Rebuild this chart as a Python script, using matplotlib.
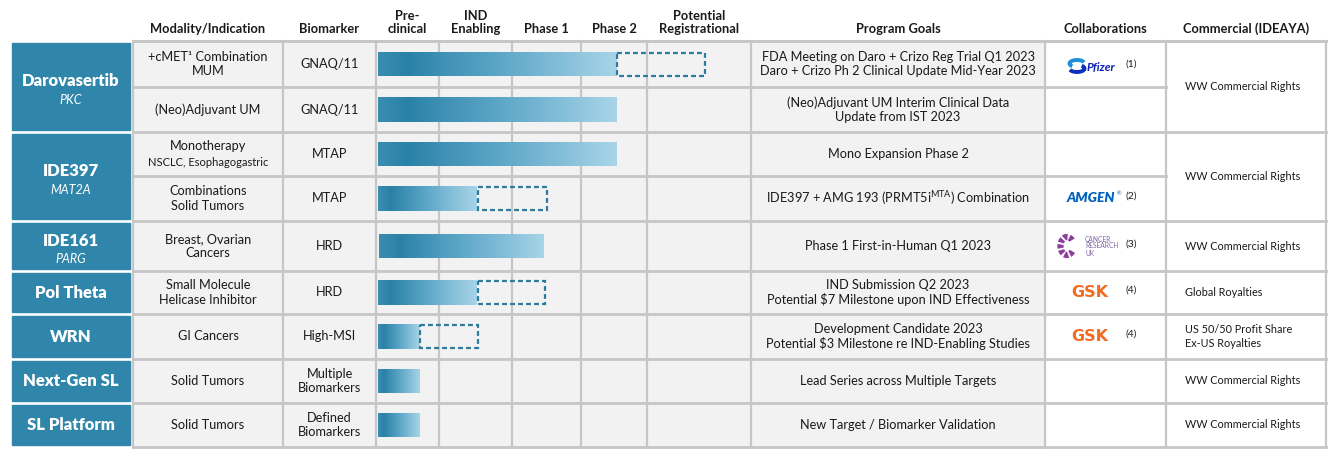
import numpy as np
import matplotlib.pyplot as plt
from matplotlib.patches import Rectangle, Arc
from matplotlib.colors import LinearSegmentedColormap

plt.rcParams['font.family'] = ['Lato', 'DejaVu Sans']

# ---------------- data ----------------
headers = ["Modality/Indication", "Biomarker", "Pre-\nclinical", "IND\nEnabling", "Phase 1",
           "Phase 2", "Potential\nRegistrational", "Program Goals", "Collaborations",
           "Commercial (IDEAYA)"]

programs = ["Darovasertib", "IDE397", "IDE161", "Pol Theta", "WRN", "Next-Gen SL", "SL Platform"]
targets = ["PKC", "MAT2A", "PARG", "", "", "", ""]
program_rows = [[0, 1], [2, 3], [4], [5], [6], [7], [8]]
commercial = ["WW Commercial Rights", "WW Commercial Rights", "WW Commercial Rights",
              "Global Royalties", "US 50/50 Profit Share\nEx-US Royalties",
              "WW Commercial Rights", "WW Commercial Rights"]

indications = ["+cMET\u00b9 Combination\nMUM", "(Neo)Adjuvant UM", "Monotherapy",
               "Combinations\nSolid Tumors", "Breast, Ovarian\nCancers",
               "Small Molecule\nHelicase Inhibitor", "GI Cancers", "Solid Tumors", "Solid Tumors"]
indication_sub = ["", "", "NSCLC, Esophagogastric", "", "", "", "", "", ""]
biomarkers = ["GNAQ/11", "GNAQ/11", "MTAP", "MTAP", "HRD", "HRD", "High-MSI",
              "Multiple\nBiomarkers", "Defined\nBiomarkers"]

# stage progress: 0 = start of Pre-clinical, 1 = end of Pre-clinical, ... 5 = end of Registrational
stage_start = [0.03, 0.03, 0.03, 0.03, 0.05, 0.03, 0.03, 0.03, 0.03]
stage_done = [3.55, 3.55, 3.55, 1.53, 2.48, 1.53, 0.70, 0.70, 0.70]
stage_next = [4.56, np.nan, np.nan, 2.50, np.nan, 2.48, 1.53, np.nan, np.nan]

goals = ["FDA Meeting on Daro + Crizo Reg Trial Q1 2023\nDaro + Crizo Ph 2 Clinical Update Mid-Year 2023",
         "(Neo)Adjuvant UM Interim Clinical Data\nUpdate from IST 2023",
         "Mono Expansion Phase 2",
         r"IDE397 + AMG 193 (PRMT5i$^{\mathregular{MTA}}$) Combination",
         "Phase 1 First-in-Human Q1 2023",
         "IND Submission Q2 2023\nPotential \\$7 Milestone upon IND Effectiveness",
         "Development Candidate 2023\nPotential \\$3 Milestone re IND-Enabling Studies",
         "Lead Series across Multiple Targets",
         "New Target / Biomarker Validation"]
partners = ["Pfizer", "", "", "AMGEN", "CRUK", "GSK", "GSK", "", ""]
partner_notes = ["(1)", "", "", "(2)", "(3)", "(4)", "(4)", "", ""]

# ---------------- layout (pixels) ----------------
W, H = 1339, 457
row_edges = np.array([41, 87, 132, 176, 221, 271, 314, 359, 403, 447])
col_edges = [133, 283, 376, 439, 512, 581, 647, 751, 1045, 1166, 1326]
stage_px = col_edges[2:8]
row_mid = (row_edges[:-1] + row_edges[1:]) / 2
bar_h = 25
fs = 9.2

blue = '#2f86aa'
grid_c = '#c6c6c6'
txt_c = '#1a1a1a'

fig = plt.figure(figsize=(W / 100, H / 100), dpi=100)
ax = fig.add_axes([0, 0, 1, 1])
ax.set_xlim(0, W)
ax.set_ylim(H, 0)
ax.axis('off')

# cell backgrounds
ax.add_patch(Rectangle((col_edges[0], row_edges[0]), col_edges[8] - col_edges[0],
                       row_edges[-1] - row_edges[0], color='#f2f2f2', zorder=0))

# grid
for c in col_edges:
    ax.plot([c, c], [row_edges[0], row_edges[-1]], color=grid_c, lw=1.6, zorder=1)
for y in [row_edges[0], row_edges[-1]]:
    ax.plot([col_edges[0], col_edges[-1]], [y, y], color=grid_c, lw=2, zorder=1)
for p, rows in enumerate(program_rows):
    top = row_edges[rows[0]]
    ax.plot([col_edges[0], col_edges[-1]], [top, top], color=grid_c, lw=2, zorder=1)
    for r in rows[1:]:
        ax.plot([col_edges[0], col_edges[9]], [row_edges[r], row_edges[r]],
                color=grid_c, lw=2, zorder=1)

# headers
for i, h in enumerate(headers):
    xc = (col_edges[i] + col_edges[i + 1]) / 2
    ax.text(xc, 35, h, ha='center', va='bottom', fontsize=9.3, fontweight='bold',
            color=txt_c, linespacing=1.15)

# program boxes
for p, rows in enumerate(program_rows):
    top = row_edges[rows[0]] + 2
    bot = row_edges[rows[-1] + 1] - 2
    ax.add_patch(Rectangle((12, top), 118, bot - top, color=blue, zorder=2))
    yc = (top + bot) / 2
    if targets[p]:
        ax.text(71, yc - 5, programs[p], ha='center', va='center', color='white',
                fontsize=12, fontweight='heavy', zorder=3)
        ax.text(71, yc + 13, targets[p], ha='center', va='center', color='white',
                fontsize=9, style='italic', zorder=3)
    else:
        ax.text(71, yc, programs[p], ha='center', va='center', color='white',
                fontsize=12, fontweight='heavy', zorder=3)
    # commercial column
    ax.text(1185, (row_edges[rows[0]] + row_edges[rows[-1] + 1]) / 2, commercial[p],
            ha='left', va='center', fontsize=7.8, color=txt_c, linespacing=1.4)

# indication / biomarker / goals
for r in range(len(indications)):
    yc = row_mid[r]
    if indication_sub[r]:
        ax.text(208, yc - 8, indications[r], ha='center', va='center', fontsize=fs, color=txt_c)
        ax.text(208, yc + 9, indication_sub[r], ha='center', va='center', fontsize=8, color=txt_c)
    else:
        ax.text(208, yc, indications[r], ha='center', va='center', fontsize=fs,
                color=txt_c, linespacing=1.25)
    ax.text(329.5, yc, biomarkers[r], ha='center', va='center', fontsize=fs,
            color=txt_c, linespacing=1.25)
    ax.text(898, yc, goals[r], ha='center', va='center', fontsize=fs,
            color=txt_c, linespacing=1.25)


# partner logos
def draw_logo(name, note, yc):
    if name == 'Pfizer':
        ax.add_patch(Arc((1077, yc - 2.5), 15, 7, theta1=150, theta2=350, lw=2.8, color='#1f8fd8'))
        ax.add_patch(Arc((1077, yc + 2.5), 15, 7, theta1=-30, theta2=170, lw=2.8, color='#0b2fbf'))
        ax.text(1087, yc + 1, 'Pfizer', ha='left', va='center', fontsize=8.5, style='italic',
                fontweight='bold', color='#0a1fb5')
    elif name == 'AMGEN':
        ax.text(1067, yc, 'AMGEN', ha='left', va='center', fontsize=10, style='italic',
                fontweight='heavy', color='#0063be')
        ax.text(1117, yc - 5, '\u00ae', ha='left', va='center', fontsize=4, color='#0063be')
    elif name == 'CRUK':
        ax.add_patch(Arc((1067, yc), 13, 18, theta1=45, theta2=315, lw=4.5,
                         color='#8e3f9e', linestyle=(0, (0.6, 0.3))))
        ax.text(1085, yc, 'CANCER\nRESEARCH\nUK', ha='left', va='center', fontsize=4.8,
                color='#7d64a6', linespacing=1.0)
    elif name == 'GSK':
        ax.text(1071, yc, 'GSK', ha='left', va='center', fontsize=11.5, fontweight='bold',
                color='#f36b21', family='DejaVu Sans')
    ax.text(1125, yc - 2, note, ha='left', va='center', fontsize=7.5, color=txt_c)


for r, name in enumerate(partners):
    if name:
        draw_logo(name, partner_notes[r], row_mid[r] + (2 if name == 'Pfizer' else 0))

# ---------------- bars (own axes with stage scale) ----------------
bx = fig.add_axes([stage_px[0] / W, 0, (stage_px[-1] - stage_px[0]) / W, 1])
stage_pos = np.arange(len(stage_px))
bx.set_xscale('function', functions=(lambda v: np.interp(v, stage_pos, stage_px),
                                     lambda p: np.interp(p, stage_px, stage_pos)))
bx.axis('off')
bx.patch.set_alpha(0)

cmap = LinearSegmentedColormap.from_list(
    'pipe', [(0, '#3a8db1'), (0.13, '#2a81a7'), (0.5, '#5ba6c7'), (1, '#a9d5e8')])
grad = np.linspace(0, 1, 256).reshape(1, -1)

start = np.array(stage_start)
done = np.array(stage_done)
bars = bx.barh(row_mid, done - start, left=start, height=bar_h, color='none', zorder=2)
for b in bars:
    x0, y0 = b.get_x(), b.get_y()
    im = bx.imshow(grad, cmap=cmap, aspect='auto', interpolation='bilinear',
                   extent=(x0, x0 + b.get_width(), y0 + bar_h, y0), zorder=2)
    im.set_clip_path(b)

nxt = np.array(stage_next)
has = ~np.isnan(nxt)
bx.barh(row_mid[has], nxt[has] - done[has], left=done[has], height=bar_h - 2,
        fill=False, edgecolor='#2c7b9c', lw=1.6, linestyle=(0, (2.2, 1.4)), zorder=3)
bx.set_xlim(0, 5)
bx.set_ylim(H, 0)

fig.savefig('out.png', dpi=100)
